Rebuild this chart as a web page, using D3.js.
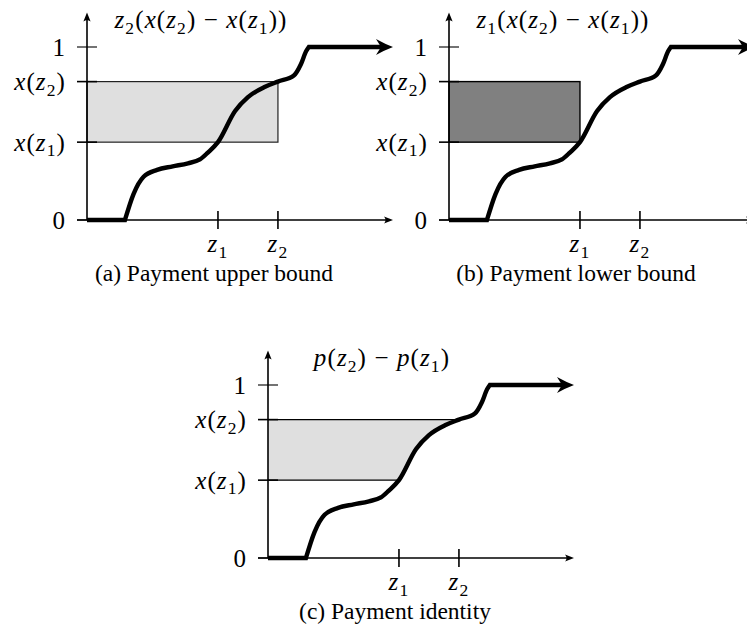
<!DOCTYPE html>
<html>
<head>
<meta charset="utf-8">
<script src="https://cdn.jsdelivr.net/npm/d3@7"></script>
<style>
  html, body { margin: 0; padding: 0; background: #fff; }
</style>
</head>
<body>
<svg id="fig" width="747" height="626" font-family="'Liberation Serif', 'Times New Roman', Times, 'DejaVu Serif', serif"></svg>
<script>
// Allocation rule x(z): value z on the horizontal axis, allocation probability on the vertical axis
const curveZ = [0, 12.4, 15.2, 18.5, 22.9, 28.0, 33.0, 36.9, 39.5, 42.8, 48.4, 52.6, 58.2, 62.4, 67.6, 69.9, 71.6, 72.5, 100];
const curveX = [0, 0, 0.15, 0.25, 0.29, 0.31, 0.328, 0.35, 0.39, 0.45, 0.63, 0.71, 0.77, 0.80, 0.835, 0.90, 0.975, 1, 1];

// the two values compared, and their allocations
const zValues = [42.8, 62.4];
const zTickLabels = ["z_1", "z_2"];
const yTicks = [0, 0.45, 0.80, 1];
const yTickLabels = ["0", "x(z_1)", "x(z_2)", "1"];

const panelTitles = ["z_2(x(z_2) − x(z_1))", "z_1(x(z_2) − x(z_1))", "p(z_2) − p(z_1)"];
const panelCaptions = ["(a) Payment upper bound", "(b) Payment lower bound", "(c) Payment identity"];
const panelShading = ["upper", "lower", "identity"];

const SERIF = "'Liberation Serif', 'Times New Roman', Times, 'DejaVu Serif', serif";

const svg = d3.select("#fig");
svg.append("rect").attr("width", 747).attr("height", 626).attr("fill", "#fff");

const xs = d3.scaleLinear().domain([0, 100]).range([0, 306]);
const ys = d3.scaleLinear().domain([0, 1]).range([0, -173]);
const yTop = 1.2;
const FS = 23.5;      // caption text
const MFS = 25;       // math labels

const [z1, z2] = zValues;
const x1 = yTicks[1], x2 = yTicks[2];

const pts = curveZ.map((z, i) => [z, curveX[i]]);
const riseStart = curveX.findIndex(v => v > 0) - 1;
const riseEnd = curveX.findIndex(v => v >= 1);
const flatLow = pts.slice(0, riseStart + 1);
const rise = pts.slice(riseStart, riseEnd + 1);
const flatHigh = pts.slice(riseEnd);

const lin = d3.line().x(d => xs(d[0])).y(d => ys(d[1]));
const smooth = d3.line().x(d => xs(d[0])).y(d => ys(d[1])).curve(d3.curveMonotoneX);

// stop the stroke short of the arrow tip
const flatHighTrim = flatHigh.map((d, i) => i === flatHigh.length - 1 ? [xs.invert(xs(d[0]) - 9), d[1]] : d);
const curvePath = lin(flatLow) + smooth(rise).replace(/^M/, "L") + lin(flatHighTrim).replace(/^M/, "L");

// split "x(z_2)" style strings into italic letters, roman symbols and subscripts
function mathRuns(s) {
  const runs = [];
  for (let i = 0; i < s.length; i++) {
    const c = s[i];
    let r;
    if (c === "_") { r = { t: s[i + 1], kind: "sub" }; i++; }
    else if (/[a-z]/i.test(c)) r = { t: c, kind: "it" };
    else r = { t: c, kind: "rm" };
    const last = runs[runs.length - 1];
    if (last && last.kind === r.kind && r.kind === "rm") last.t += r.t;
    else runs.push(r);
  }
  return runs;
}

function mathText(g, s, x, y, anchor) {
  const t = g.append("text").attr("x", x).attr("y", y)
    .attr("text-anchor", anchor).attr("font-size", MFS)
    .attr("font-family", SERIF)
    .attr("letter-spacing", 1.1)
    .style("white-space", "pre");
  let shifted = false;
  mathRuns(s).forEach(r => {
    const sp = t.append("tspan").text(r.t);
    if (r.kind === "it") sp.attr("font-style", "italic");
    if (r.kind === "sub") {
      sp.attr("font-size", MFS * 0.7);
      if (!shifted) { sp.attr("dy", 5.5); shifted = true; }
    } else if (shifted) { sp.attr("dy", -5.5); shifted = false; }
  });
  return t;
}

function arrowSmall(g, x, y, angle) {
  g.append("path")
    .attr("d", "M0,0 L-9,-3.6 Q-6,0 -9,3.6 Z")
    .attr("transform", `translate(${x},${y}) rotate(${angle})`)
    .attr("fill", "#000");
}

const origins = [[87, 220], [449, 220], [268, 558]];
const defs = svg.append("defs");

origins.forEach((o, p) => {
  const g = svg.append("g").attr("transform", `translate(${o[0]},${o[1]})`);
  const shade = panelShading[p];

  // shaded payment region
  if (shade === "upper" || shade === "lower") {
    const right = shade === "upper" ? z2 : z1;
    g.append("rect")
      .attr("x", xs(0)).attr("y", ys(x2))
      .attr("width", xs(right) - xs(0)).attr("height", ys(x1) - ys(x2))
      .attr("fill", shade === "upper" ? "#dfdfdf" : "#808080")
      .attr("stroke", shade === "upper" ? "#222" : "#000")
      .attr("stroke-width", shade === "upper" ? 1.2 : 1.4);
  } else {
    const cp = defs.append("clipPath").attr("id", "leftOfCurve");
    cp.append("path")
      .attr("d", d3.area().x(d => xs(d[0])).y0(ys(yTop)).y1(d => ys(d[1])).curve(d3.curveMonotoneX)(rise));
    cp.append("rect")
      .attr("x", xs(0)).attr("y", ys(yTop))
      .attr("width", xs(rise[0][0]) - xs(0)).attr("height", ys(0) - ys(yTop));
    g.append("rect")
      .attr("x", xs(0)).attr("y", ys(x2))
      .attr("width", xs(z2) - xs(0)).attr("height", ys(x1) - ys(x2))
      .attr("fill", "#dfdfdf")
      .attr("clip-path", "url(#leftOfCurve)");
    [[x1, z1], [x2, z2]].forEach(([yv, zv]) => {
      g.append("line")
        .attr("x1", xs(0)).attr("x2", xs(zv))
        .attr("y1", ys(yv)).attr("y2", ys(yv))
        .attr("stroke", "#000").attr("stroke-width", 1.3);
    });
  }

  // axes
  g.append("line").attr("x1", -10).attr("x2", xs(100) - 6)
    .attr("y1", ys(0)).attr("y2", ys(0)).attr("stroke", "#000").attr("stroke-width", 1.6);
  arrowSmall(g, xs(100), ys(0), 0);
  g.append("line").attr("x1", 0).attr("x2", 0)
    .attr("y1", ys(0)).attr("y2", ys(yTop) + 6).attr("stroke", "#000").attr("stroke-width", 1.6);
  arrowSmall(g, 0, ys(yTop), -90);

  // vertical-axis ticks and labels
  yTicks.forEach((v, i) => {
    g.append("line").attr("x1", -10).attr("x2", 10)
      .attr("y1", ys(v)).attr("y2", ys(v))
      .attr("stroke", "#000").attr("stroke-width", (v === x1 || v === x2) ? 1.6 : 1.1);
    mathText(g, yTickLabels[i], -21, ys(v) + 8.5, "end");
  });

  // horizontal-axis ticks and labels
  zValues.forEach((v, i) => {
    g.append("line").attr("x1", xs(v)).attr("x2", xs(v))
      .attr("y1", -9).attr("y2", 9)
      .attr("stroke", "#000").attr("stroke-width", 1.6);
    mathText(g, zTickLabels[i], xs(v), 32, "middle");
  });

  // allocation curve with arrow
  g.append("path").attr("d", curvePath)
    .attr("fill", "none").attr("stroke", "#000")
    .attr("stroke-width", 4.4).attr("stroke-linejoin", "miter");
  const last = flatHigh[flatHigh.length - 1];
  g.append("path")
    .attr("d", "M0,0 Q-8,-3 -17,-8 L-12,0 L-17,8 Q-8,3 0,0 Z")
    .attr("transform", `translate(${xs(last[0])},${ys(last[1])})`)
    .attr("fill", "#000");

  // title and caption
  mathText(g, panelTitles[p], 114, -192, "middle");
  g.append("text").attr("x", 127).attr("y", 61)
    .attr("text-anchor", "middle").attr("font-size", FS)
    .attr("font-family", SERIF)
    .text(panelCaptions[p]);
});
</script>
</body>
</html>
